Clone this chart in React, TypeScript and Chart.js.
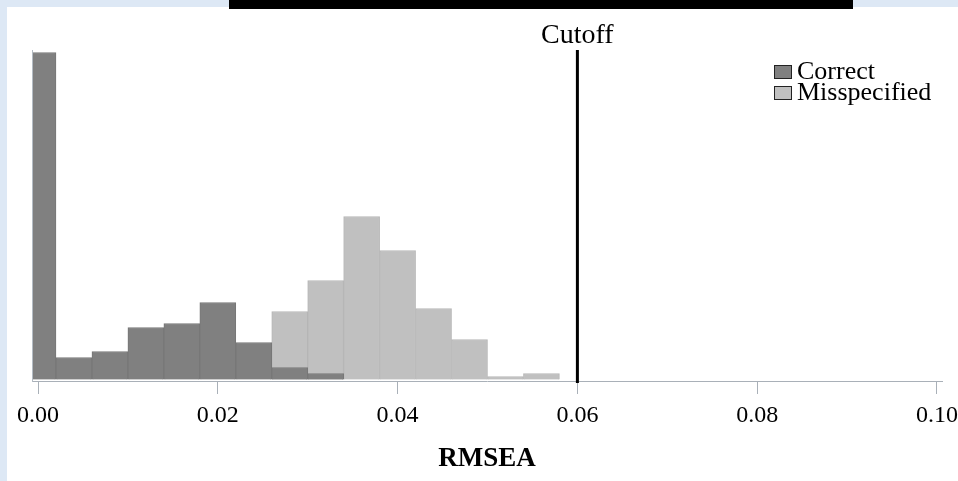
import React, { useEffect, useRef } from "react";
import { Chart, registerables } from "chart.js";

Chart.register(...registerables);

// ---- data ----
const binCenters = [0, 0.004, 0.008, 0.012, 0.016, 0.02, 0.024, 0.028, 0.032, 0.036, 0.04, 0.044, 0.048, 0.052, 0.056];
const correctCounts = [327, 22, 28, 52, 56, 77, 37, 12, 6, null, null, null, null, null, null];
const misspecifiedCounts = [null, null, null, null, null, null, null, 68, 99, 163, 129, 71, 40, 3, 6];
const seriesNames = ["Correct", "Misspecified"];
const xTickValues = [0, 0.02, 0.04, 0.06, 0.08, 0.1];
const xTickLabels = ["0.00", "0.02", "0.04", "0.06", "0.08", "0.10"];
const xAxisTitle = "RMSEA";
const cutoffValue = 0.06;
const cutoffLabel = "Cutoff";

const SERIF = '"Liberation Serif", "Times New Roman", serif';
const DARK = "#808080";
const LIGHT = "#c0c0c0";
const AXIS_GRAY = "#a9b0b8";

const cutoffPlugin = {
  id: "cutoff",
  afterDraw(chart: any) {
    const { ctx, chartArea, scales } = chart;
    const x = scales.x.getPixelForValue(cutoffValue);
    ctx.save();
    ctx.strokeStyle = "#000";
    ctx.lineWidth = 3;
    ctx.beginPath();
    ctx.moveTo(x, chartArea.top);
    ctx.lineTo(x, chartArea.bottom + 2);
    ctx.stroke();
    ctx.fillStyle = "#000";
    ctx.font = `28px ${SERIF}`;
    ctx.textAlign = "center";
    ctx.textBaseline = "alphabetic";
    ctx.fillText(cutoffLabel, x, chartArea.top - 7);
    ctx.restore();
  },
};

const legendPlugin = {
  id: "boxLegend",
  afterDraw(chart: any) {
    const { ctx, chartArea } = chart;
    const left = chartArea.right - 168;
    const baselines = [chartArea.top + 29, chartArea.top + 50];
    ctx.save();
    chart.data.datasets.forEach((ds: any, i: number) => {
      const by = baselines[i];
      ctx.fillStyle = ds.backgroundColor;
      ctx.fillRect(left, by - 14, 18, 14);
      ctx.strokeStyle = "#222";
      ctx.lineWidth = 1;
      ctx.strokeRect(left + 0.5, by - 13.5, 17, 13);
      ctx.fillStyle = "#000";
      ctx.font = `26px ${SERIF}`;
      ctx.textAlign = "left";
      ctx.textBaseline = "alphabetic";
      ctx.fillText(ds.label, left + 23, by);
    });
    ctx.restore();
  },
};

export default function App() {
  const canvasRef = useRef<HTMLCanvasElement | null>(null);

  useEffect(() => {
    const canvas = canvasRef.current;
    if (!canvas) return;
    const chart = new Chart(canvas, {
      type: "bar",
      data: {
        datasets: [
          {
            label: seriesNames[0],
            data: binCenters.map((x, i) => ({ x, y: correctCounts[i] })) as any,
            backgroundColor: DARK,
            borderColor: "#777777",
            borderWidth: 1,
            borderSkipped: "start",
          },
          {
            label: seriesNames[1],
            data: binCenters.map((x, i) => ({ x, y: misspecifiedCounts[i] })) as any,
            backgroundColor: LIGHT,
            borderColor: "#b6b6b6",
            borderWidth: 1,
            borderSkipped: "start",
          },
        ],
      },
      plugins: [cutoffPlugin, legendPlugin],
      options: {
        animation: false,
        responsive: false,
        devicePixelRatio: 1,
        grouped: false,
        barPercentage: 1,
        categoryPercentage: 1,
        layout: { padding: { left: 32, right: 16, top: 50, bottom: 0 }, autoPadding: false },
        plugins: { legend: { display: false }, tooltip: { enabled: false }, title: { display: false } },
        scales: {
          x: {
            type: "linear",
            offset: false,
            min: -0.000668,
            max: 0.100557,
            afterBuildTicks: (scale: any) => {
              scale.ticks = xTickValues.map((v) => ({ value: v }));
            },
            afterFit: (scale: any) => {
              scale.height = 100;
              scale.paddingLeft = 0;
              scale.paddingRight = 0;
            },
            ticks: {
              includeBounds: false,
              autoSkip: false,
              maxRotation: 0,
              padding: 7,
              color: "#000",
              font: { family: SERIF, size: 24, lineHeight: 1.2 },
              callback: (_v: any, i: number) => xTickLabels[i],
            },
            grid: { display: true, offset: false, drawOnChartArea: false, drawTicks: true, tickLength: 13, color: AXIS_GRAY, lineWidth: 1 },
            border: { display: true, color: AXIS_GRAY, width: 1, z: 1 },
            title: {
              display: true,
              text: xAxisTitle,
              color: "#000",
              font: { family: SERIF, size: 27, weight: "bold", lineHeight: 1.2 },
              padding: { top: 0, bottom: 6 },
            },
          },
          y: {
            type: "linear",
            min: -1.5,
            max: 329.5,
            afterFit: (scale: any) => {
              scale.paddingTop = 0;
              scale.paddingBottom = 0;
            },
            ticks: { display: false },
            grid: { display: false, drawTicks: false },
            border: { display: true, color: "#b4bcc4", width: 1, z: 1 },
          },
        },
      } as any,
    });
    return () => chart.destroy();
  }, []);

  return (
    <div style={{ position: "fixed", left: 0, top: 0, width: 958, height: 481, background: "#dde8f5", overflow: "hidden" }}>
      <div style={{ position: "absolute", left: 7, top: 7, right: 0, bottom: 0, background: "#ffffff" }} />
      <div style={{ position: "absolute", left: 229, top: 0, width: 624, height: 9, background: "#000000" }} />
      <canvas ref={canvasRef} width={958} height={481} style={{ position: "absolute", left: 0, top: 0, width: 958, height: 481 }} />
    </div>
  );
}
